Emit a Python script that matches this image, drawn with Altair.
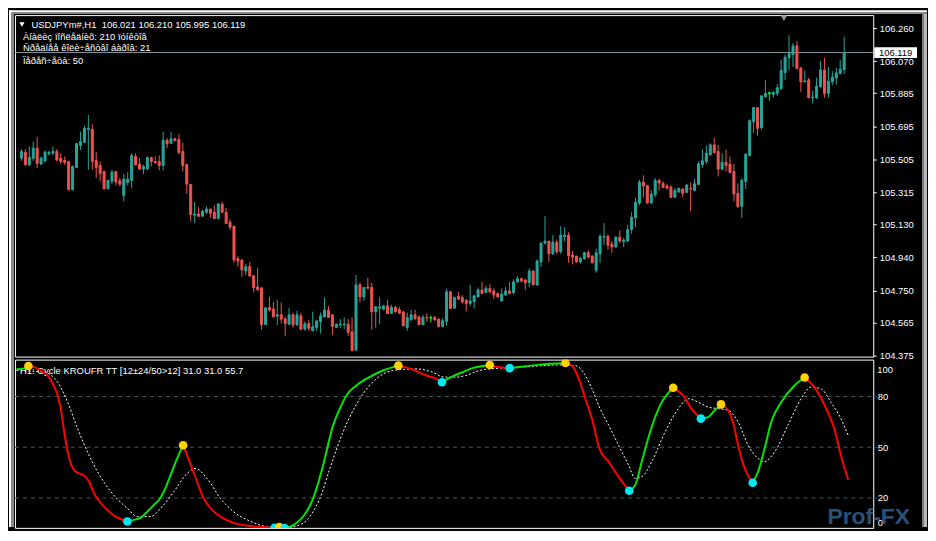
import altair as alt
import pandas as pd
import numpy as np

# ---------------- price candles (USDJPY H1) ----------------
opens = [105.511, 105.544, 105.473, 105.511, 105.569, 105.477, 105.496, 105.536, 105.540, 105.550,
         105.511, 105.498, 105.492, 105.330, 105.458, 105.584, 105.603, 105.677, 105.676, 105.498,
         105.469, 105.435, 105.336, 105.378, 105.435, 105.381, 105.297, 105.372, 105.383, 105.521,
         105.477, 105.448, 105.450, 105.515, 105.492, 105.492, 105.469, 105.614, 105.597, 105.624,
         105.618, 105.550, 105.475, 105.360, 105.183, 105.190, 105.177, 105.200, 105.219, 105.200,
         105.164, 105.246, 105.200, 105.143, 105.120, 104.933, 104.925, 104.862, 104.887, 104.835,
         104.770, 104.765, 104.554, 104.652, 104.644, 104.602, 104.610, 104.587, 104.556, 104.610,
         104.552, 104.604, 104.528, 104.560, 104.518, 104.537, 104.570, 104.598, 104.637, 104.610,
         104.537, 104.552, 104.552, 104.556, 104.512, 104.407, 104.782, 104.713, 104.770, 104.767,
         104.627, 104.648, 104.642, 104.661, 104.619, 104.652, 104.639, 104.627, 104.537, 104.581,
         104.610, 104.598, 104.553, 104.595, 104.591, 104.595, 104.585, 104.543, 104.572, 104.742,
         104.648, 104.715, 104.709, 104.694, 104.675, 104.686, 104.713, 104.753, 104.738, 104.761,
         104.747, 104.732, 104.690, 104.724, 104.747, 104.738, 104.799, 104.818, 104.810, 104.795,
         104.862, 104.782, 104.915, 105.022, 105.034, 104.961, 105.028, 104.973, 105.059, 105.068,
         104.954, 104.948, 104.914, 104.933, 104.967, 104.948, 104.866, 104.961, 105.057, 105.062,
         105.017, 105.000, 105.057, 105.030, 105.034, 105.101, 105.168, 105.253, 105.372, 105.355,
         105.253, 105.301, 105.383, 105.366, 105.351, 105.345, 105.286, 105.318, 105.334, 105.315,
         105.337, 105.326, 105.360, 105.473, 105.492, 105.530, 105.588, 105.550, 105.448, 105.487,
         105.477, 105.435, 105.309, 105.234, 105.378, 105.527, 105.721, 105.802, 105.687, 105.865,
         105.882, 105.878, 105.884, 105.912, 106.004, 106.090, 106.107, 106.157, 106.031, 105.951,
         105.962, 105.859, 105.859, 105.922, 106.019, 105.884, 105.951, 105.973, 105.998, 106.021]
highs = [105.563, 105.563, 105.578, 105.607, 105.635, 105.521, 105.555, 105.555, 105.578, 105.563,
         105.540, 105.521, 105.496, 105.469, 105.597, 105.664, 105.698, 105.760, 105.706, 105.546,
         105.492, 105.439, 105.387, 105.444, 105.435, 105.397, 105.420, 105.431, 105.540, 105.540,
         105.511, 105.473, 105.521, 105.515, 105.521, 105.527, 105.664, 105.626, 105.664, 105.626,
         105.649, 105.601, 105.479, 105.362, 105.259, 105.229, 105.215, 105.234, 105.219, 105.240,
         105.253, 105.259, 105.225, 105.158, 105.120, 104.948, 104.929, 104.902, 104.914, 104.839,
         104.881, 104.765, 104.652, 104.713, 104.684, 104.696, 104.681, 104.598, 104.650, 104.621,
         104.633, 104.621, 104.572, 104.581, 104.627, 104.581, 104.623, 104.709, 104.661, 104.610,
         104.558, 104.585, 104.595, 104.585, 104.595, 104.839, 104.795, 104.770, 104.822, 104.795,
         104.661, 104.709, 104.667, 104.696, 104.667, 104.661, 104.656, 104.629, 104.623, 104.639,
         104.639, 104.604, 104.610, 104.619, 104.604, 104.604, 104.589, 104.589, 104.761, 104.747,
         104.715, 104.742, 104.723, 104.700, 104.782, 104.725, 104.767, 104.799, 104.776, 104.786,
         104.763, 104.738, 104.761, 104.770, 104.799, 104.814, 104.833, 104.824, 104.818, 104.877,
         104.866, 104.929, 105.028, 105.177, 105.034, 105.068, 105.043, 105.120, 105.114, 105.085,
         104.977, 104.948, 104.942, 104.973, 104.982, 104.952, 104.990, 105.072, 105.137, 105.072,
         105.034, 105.062, 105.095, 105.053, 105.129, 105.200, 105.282, 105.387, 105.412, 105.355,
         105.326, 105.397, 105.393, 105.378, 105.364, 105.355, 105.339, 105.343, 105.339, 105.364,
         105.372, 105.393, 105.492, 105.561, 105.584, 105.597, 105.630, 105.588, 105.540, 105.561,
         105.521, 105.479, 105.366, 105.397, 105.540, 105.735, 105.807, 105.802, 105.870, 105.960,
         105.893, 105.897, 105.937, 106.079, 106.109, 106.218, 106.174, 106.186, 106.031, 106.017,
         105.974, 105.899, 105.974, 106.071, 106.088, 106.037, 106.012, 106.031, 106.077, 106.210]
lows = [105.496, 105.469, 105.464, 105.496, 105.454, 105.473, 105.488, 105.527, 105.530, 105.496,
        105.477, 105.473, 105.326, 105.326, 105.456, 105.559, 105.597, 105.444, 105.444, 105.397,
        105.378, 105.330, 105.330, 105.362, 105.355, 105.349, 105.263, 105.355, 105.339, 105.469,
        105.444, 105.420, 105.444, 105.464, 105.479, 105.441, 105.441, 105.569, 105.592, 105.607,
        105.534, 105.435, 105.305, 105.148, 105.139, 105.173, 105.177, 105.190, 105.168, 105.160,
        105.160, 105.196, 105.133, 105.099, 104.910, 104.887, 104.829, 104.839, 104.829, 104.738,
        104.747, 104.524, 104.552, 104.629, 104.595, 104.551, 104.560, 104.486, 104.552, 104.537,
        104.547, 104.522, 104.518, 104.518, 104.518, 104.518, 104.503, 104.595, 104.591, 104.495,
        104.535, 104.533, 104.528, 104.490, 104.400, 104.404, 104.681, 104.690, 104.757, 104.524,
        104.537, 104.556, 104.637, 104.617, 104.617, 104.623, 104.614, 104.543, 104.518, 104.576,
        104.579, 104.551, 104.551, 104.570, 104.566, 104.576, 104.537, 104.537, 104.547, 104.642,
        104.646, 104.694, 104.675, 104.629, 104.661, 104.646, 104.709, 104.728, 104.734, 104.734,
        104.700, 104.709, 104.686, 104.719, 104.728, 104.728, 104.795, 104.795, 104.753, 104.767,
        104.780, 104.776, 104.885, 105.015, 104.915, 104.954, 104.958, 104.961, 105.034, 104.910,
        104.900, 104.910, 104.904, 104.927, 104.935, 104.904, 104.852, 104.910, 105.011, 104.984,
        104.967, 104.996, 105.024, 105.000, 105.030, 105.076, 105.116, 105.240, 105.286, 105.250,
        105.248, 105.286, 105.324, 105.339, 105.330, 105.282, 105.282, 105.311, 105.286, 105.309,
        105.206, 105.320, 105.359, 105.454, 105.477, 105.527, 105.540, 105.406, 105.444, 105.435,
        105.425, 105.263, 105.225, 105.168, 105.334, 105.521, 105.658, 105.641, 105.674, 105.859,
        105.842, 105.859, 105.870, 105.903, 105.960, 106.017, 106.037, 106.023, 105.893, 105.947,
        105.855, 105.825, 105.851, 105.918, 105.859, 105.859, 105.932, 105.935, 105.994, 105.995]
closes = [105.550, 105.473, 105.515, 105.569, 105.481, 105.511, 105.546, 105.544, 105.550, 105.500,
          105.492, 105.486, 105.330, 105.464, 105.595, 105.607, 105.683, 105.683, 105.492, 105.458,
          105.423, 105.336, 105.383, 105.431, 105.374, 105.362, 105.391, 105.391, 105.527, 105.473,
          105.448, 105.462, 105.515, 105.492, 105.485, 105.469, 105.614, 105.593, 105.622, 105.612,
          105.544, 105.469, 105.362, 105.187, 105.190, 105.177, 105.206, 105.219, 105.194, 105.164,
          105.248, 105.200, 105.135, 105.114, 104.925, 104.919, 104.868, 104.887, 104.833, 104.766,
          104.755, 104.554, 104.650, 104.637, 104.598, 104.610, 104.585, 104.560, 104.610, 104.552,
          104.610, 104.526, 104.558, 104.533, 104.541, 104.575, 104.604, 104.637, 104.595, 104.543,
          104.556, 104.556, 104.556, 104.509, 104.404, 104.782, 104.713, 104.767, 104.763, 104.627,
          104.656, 104.656, 104.661, 104.617, 104.652, 104.627, 104.619, 104.547, 104.595, 104.610,
          104.589, 104.553, 104.595, 104.591, 104.595, 104.581, 104.543, 104.576, 104.742, 104.646,
          104.709, 104.700, 104.684, 104.675, 104.690, 104.719, 104.753, 104.732, 104.763, 104.742,
          104.724, 104.713, 104.728, 104.747, 104.734, 104.799, 104.818, 104.805, 104.795, 104.862,
          104.782, 104.919, 105.022, 105.034, 104.961, 105.028, 104.973, 105.068, 105.068, 104.948,
          104.942, 104.914, 104.935, 104.967, 104.942, 104.910, 104.967, 105.063, 105.062, 105.011,
          105.000, 105.057, 105.034, 105.040, 105.101, 105.171, 105.257, 105.372, 105.351, 105.253,
          105.305, 105.383, 105.368, 105.343, 105.339, 105.286, 105.326, 105.337, 105.309, 105.357,
          105.334, 105.364, 105.479, 105.496, 105.540, 105.588, 105.544, 105.448, 105.487, 105.469,
          105.429, 105.305, 105.234, 105.383, 105.534, 105.727, 105.802, 105.683, 105.870, 105.884,
          105.888, 105.889, 105.916, 106.017, 106.092, 106.113, 106.157, 106.027, 105.951, 105.956,
          105.859, 105.863, 105.926, 106.019, 105.884, 105.954, 105.977, 106.002, 106.023, 106.119]
marked_bars = [104, 190]          # bars drawn as lime crosses
last_price = 106.119
shift_marker_bar = 193.7
price_ticks = [106.260, 106.070, 105.885, 105.695, 105.505, 105.315,
               105.130, 104.940, 104.750, 104.565, 104.375]

# ---------------- oscillator (Cycle KROUFR TT) ----------------
cyc_bar = [0, 2, 3, 4.5, 6.2, 7.8, 9.1, 10.35, 11.2, 11.75, 12.4, 13.25, 14.5, 15.75, 17.4, 18.25,
           19.5, 21.2, 22.85, 24.5, 26.2, 27.85,
           29.5, 31.2, 32.85, 34.5, 35.75, 37, 38.7, 40.35, 41.85,
           42.85, 44.1, 45.35, 47, 48.7, 51.2, 54.5, 58.7, 62.85, 64.8,
           66, 67.3,
           68.7, 71.2, 72.85, 74.5, 75.35, 77, 79.5, 81.2, 82.85, 85.35, 87.85, 92, 95.9,
           99.5, 102.85, 105.35, 106.85,
           109.5, 112, 114.5, 118.85,
           121.2, 123.85,
           127.85, 131.2, 137.85,
           139.5, 141.2, 142.85, 144.5, 146.4, 148.7, 151.2, 153.85,
           155.35, 157, 159.1, 161.6, 164.9,
           167.4, 169.5, 171.85,
           173.7, 175.35, 176.9,
           178.7, 179.9, 181.2, 182.85, 184.85,
           186.2, 187.85, 189.5, 192, 195.35, 197.9,
           200.35, 203.7, 205.35, 207, 208.85]
cyc_val = [96.0, 96.6, 98.0, 97.3, 95.3, 92.4, 87.5, 80.6, 71.8, 62.9, 53.1, 43.4, 36.5, 34.5, 32.5, 29.6,
           22.8, 16.9, 12.9, 9.6, 7.6, 6.1,
           7.1, 8.4, 11.9, 15.9, 18.8, 23.7, 33.5, 43.4, 51.2,
           45.3, 37.5, 29.6, 19.8, 14.0, 9.0, 5.3, 3.4, 2.7, 2.4,
           2.8, 2.3,
           3.0, 7.1, 11.9, 19.8, 25.7, 39.4, 62.9, 72.8, 80.6, 86.5, 90.4, 95.3, 98.2,
           95.9, 92.4, 90.4, 88.4,
           91.9, 94.3, 96.7, 98.6,
           97.3, 96.7,
           97.8, 98.8, 99.8,
           98.2, 90.4, 78.6, 66.9, 49.0, 41.4, 32.5, 24.3,
           27.6, 41.4, 59.0, 74.7, 85.1,
           80.6, 72.8, 66.9,
           67.8, 71.8, 75.3,
           71.8, 64.9, 51.2, 37.5, 29.0,
           35.5, 49.2, 64.9, 76.6, 86.5, 91.2,
           85.5, 70.8, 61.0, 45.3, 30.6]
sig_bar = [0, 6.9, 10.35, 12.85, 15.35, 17.85, 20.35, 23.7, 27.85, 30.35, 33.7, 36.2, 39.5, 42.85,
           44.9, 47.85, 51.2, 54.5, 58.7, 62.85, 66.9, 71.5, 74.5, 76.2, 78.7, 82, 86.2, 90.35, 94.5,
           100.35, 104.5, 107.4, 110.35, 112.85, 116.2, 121.2, 125.35, 129.5, 136.2, 140.35, 142.85,
           144.5, 146.5, 148.7, 151.2, 153.7, 155.35, 157, 159.5, 162.85, 166.2, 168.7, 171.2, 173.7,
           176.2, 178.7, 181.2, 183.7, 186.2, 187.85, 190.35, 193.7, 197, 199.5, 202, 204.5, 207, 208.85]
sig_val = [95.3, 94.3, 88.4, 76.6, 61.0, 47.2, 35.5, 23.7, 13.9, 9.0, 9.0, 13.9, 23.7, 34.5,
           37.5, 31.6, 19.8, 11.9, 6.3, 3.0, 2.2, 4.5, 12.0, 19.8, 37.5, 59.0, 78.6, 90.4, 95.3,
           96.3, 94.3, 91.4, 91.4, 92.4, 95.3, 96.7, 97.3, 97.8, 98.6, 98.2, 92.4,
           84.5, 73.0, 63.0, 51.0, 39.4, 31.6, 32.5, 41.4, 59.0, 72.8, 78.6, 76.6, 73.7,
           72.8, 71.8, 64.9, 51.2, 43.4, 41.4, 47.2, 63.0, 78.6, 85.5, 84.5, 76.6, 66.9, 57.0]
levels = [20, 50, 80]
osc_top_label = 100

header_line = "USDJPYm#,H1\u00a0\u00a0106.021 106.210 105.995 106.119"
info_lines = ["Àíàëèç ïîñëåäíèõ: 210 ïóíêòîâ",
              "Ñðåäíåå êîëè÷åñòâî áàðîâ: 21",
              "Ïåðåñ÷åòà: 50"]
osc_label = "H1: Cycle KROUFR TT [12±24/50>12] 31.0 31.0 55.7"

# ---------------- layout ----------------
W, H1, H2 = 862, 343, 169
RIGHT = W + 49          # right edge of the black terminal window (plot coordinates)
X_DOM = [-0.375, 215.125]
Y_TOP = [104.3693, 106.3345]
Y_BOT = [2.35, 101.76]
FONT = "Liberation Sans, Arial, sans-serif"
FS = 9.5

xs = alt.Scale(domain=X_DOM, nice=False, zero=False)
ys = alt.Scale(domain=Y_TOP, nice=False, zero=False)
yb = alt.Scale(domain=Y_BOT, nice=False, zero=False)

top_axis = alt.Axis(orient="right", values=price_ticks, format=".3f", tickSize=3, labelPadding=3,
                    grid=False, domain=False, labelColor="white", tickColor="white",
                    labelFont=FONT, labelFontSize=FS, title=None, labelOverlap=False)
bot_axis = alt.Axis(orient="right", values=[Y_BOT[0], 20, 50, 80],
                    labelExpr="datum.value < 10 ? '0' : format(datum.value, 'd')",
                    ticks=False, labelPadding=4, labelFlush=True, grid=False, domain=False,
                    labelColor="white", labelFont=FONT, labelFontSize=FS, title=None,
                    labelOverlap=False)

n = len(closes)
assert len(opens) == len(highs) == len(lows) == n
cdf = pd.DataFrame({"bar": np.arange(n), "o": opens, "h": highs, "l": lows, "c": closes})
cdf["kind"] = np.where(cdf["c"] >= cdf["o"], "bull", "bear")
cdf.loc[cdf["bar"].isin(marked_bars), "kind"] = "mark"
cscale = alt.Scale(domain=["bull", "bear", "mark"], range=["#26a69a", "#ef5350", "#00ff00"])

one = pd.DataFrame({"k": [0]})


def txt(s, x, y, color="white", size=FS, align="left", **kw):
    return alt.Chart(one).mark_text(text=s, align=align, baseline="middle", color=color,
                                    font=FONT, fontSize=size, **kw).encode(
        x=alt.value(x), y=alt.value(y))


def box(x, x2, y, y2, color):
    return alt.Chart(one).mark_rect(color=color, opacity=1).encode(
        x=alt.value(x), x2=alt.value(x2), y=alt.value(y), y2=alt.value(y2))


X = alt.X("bar:Q", scale=xs, axis=None)

# window frame: white page edge + grey bevel around the black terminal window
frame = alt.layer(
    box(-6, -3.5, -5, 514, "#ffffff"),
    box(-3.5, -1, -1, 514, "#8a8a8a"),
    box(-6, RIGHT + 5, -5, -2.5, "#ffffff"),
    box(-3.5, RIGHT + 5, -2.5, -1, "#8a8a8a"),
    box(RIGHT, RIGHT + 2, -1, 514, "#7c7c7c"),
    box(RIGHT + 2, RIGHT + 5, -1, 514, "#b9b9b9"),
)

price_line = alt.Chart(one).mark_rule(color="#8c96a0", strokeWidth=1).encode(
    y=alt.YDatum(last_price, scale=ys, axis=top_axis, title=None))

wicks = alt.Chart(cdf).mark_rule(strokeWidth=1).encode(
    x=X, y=alt.Y("l:Q", scale=ys, axis=top_axis, title=None), y2="h:Q",
    color=alt.Color("kind:N", scale=cscale, legend=None))

bodies = alt.Chart(cdf).mark_bar(size=2, strokeWidth=1, opacity=1).encode(
    x=X, y=alt.Y("o:Q", scale=ys, axis=top_axis, title=None), y2="c:Q",
    color=alt.Color("kind:N", scale=cscale, legend=None),
    stroke=alt.Stroke("kind:N", scale=cscale, legend=None))

price_box = alt.Chart(one).mark_point(shape="M-1,-0.25H1V0.25H-1Z", filled=True, size=1849,
                                      color="white", opacity=1, strokeWidth=0).encode(
    x=alt.value(W + 22.5), y=alt.YDatum(last_price, scale=ys, axis=top_axis, title=None))
price_txt = alt.Chart(one).mark_text(text=f"{last_price:.3f}", color="black", font=FONT,
                                     fontSize=FS, align="center", baseline="middle").encode(
    x=alt.value(W + 22.5), y=alt.YDatum(last_price, scale=ys, axis=top_axis, title=None))

shift_mark = alt.Chart(one).mark_point(shape="triangle-down", filled=True, color="#8f98a0",
                                       size=45, opacity=1).encode(
    x=alt.XDatum(shift_marker_bar, scale=xs, axis=None), y=alt.value(3))

hdr_tri = alt.Chart(one).mark_point(shape="triangle-down", filled=True, color="white",
                                    size=28, opacity=1).encode(x=alt.value(7), y=alt.value(9.5))

top = alt.layer(
    frame, price_line, wicks, bodies, price_box, price_txt, shift_mark, hdr_tri,
    txt(header_line, 16.5, 9.5),
    txt(info_lines[0], 8, 21.7),
    txt(info_lines[1], 8, 33),
    txt(info_lines[2], 8, 46.3),
).properties(width=W, height=H1)

# ----- oscillator data -----
assert len(cyc_bar) == len(cyc_val) and len(sig_bar) == len(sig_val)
segs = []
cur, cur_dir = [0], None
for k in range(1, len(cyc_val)):
    d = "up" if cyc_val[k] >= cyc_val[k - 1] else "down"
    if cur_dir is None or d == cur_dir:
        cur.append(k)
        cur_dir = d
    else:
        segs.append((cur_dir, cur))
        cur, cur_dir = [k - 1, k], d
segs.append((cur_dir, cur))
rows = []
for s, (d, ks) in enumerate(segs):
    for k in ks:
        rows.append({"bar": cyc_bar[k], "v": cyc_val[k], "seg": s,
                     "col": "#00e600" if d == "up" else "#ff0000"})
mdf = pd.DataFrame(rows)

dots = []
for k in range(1, len(cyc_val) - 1):
    if cyc_val[k] > cyc_val[k - 1] and cyc_val[k] > cyc_val[k + 1]:
        dots.append({"bar": cyc_bar[k], "v": cyc_val[k], "col": "#ffd200"})
    elif cyc_val[k] < cyc_val[k - 1] and cyc_val[k] < cyc_val[k + 1]:
        dots.append({"bar": cyc_bar[k], "v": cyc_val[k], "col": "#00e8f4"})
ddf = pd.DataFrame(dots)
sdf = pd.DataFrame({"bar": sig_bar, "v": sig_val})

YB = alt.Y("v:Q", scale=yb, axis=bot_axis, title=None)

level_rules = alt.Chart(pd.DataFrame({"lv": levels})).mark_rule(
    strokeDash=[4, 4], color="#3a5f5a", strokeWidth=1).encode(
    y=alt.Y("lv:Q", scale=yb, axis=bot_axis, title=None), x=alt.value(0), x2=alt.value(W + 4))

# top scale label of the oscillator, pushed inside the panel as the terminal does
top_lbl = alt.Chart(one).mark_text(text=str(osc_top_label), align="left", baseline="top", dy=2,
                                   color="white", font=FONT, fontSize=FS).encode(
    x=alt.value(W + 4), y=alt.YDatum(osc_top_label, scale=yb, axis=bot_axis, title=None))

sig_line = alt.Chart(sdf).mark_line(color="white", strokeWidth=1, strokeDash=[2, 2],
                                    interpolate="monotone", clip=True).encode(
    x=X, y=YB, order="bar:Q")

main_line = alt.Chart(mdf).mark_line(strokeWidth=2, interpolate="monotone", clip=True).encode(
    x=X, y=YB, detail="seg:N", order="bar:Q", color=alt.Color("col:N", scale=None))

dot_layer = alt.Chart(ddf).mark_circle(size=75, opacity=1, clip=True).encode(
    x=X, y=YB, color=alt.Color("col:N", scale=None))

watermark = alt.Chart(one).mark_text(text="Prof-FX", align="left", baseline="bottom",
                                     color="#2f6090", opacity=0.85, font=FONT, fontSize=23,
                                     fontWeight="bold").encode(
    x=alt.value(816), y=alt.value(170))

bottom = alt.layer(
    level_rules, top_lbl,
    txt(osc_label, 5, 11),
    sig_line, main_line, dot_layer, watermark,
).properties(width=W, height=H2)

chart = alt.vconcat(top, bottom, spacing=3, bounds="flush").properties(
    padding={"left": 0, "top": 0, "right": 0, "bottom": 0},
    background="#000000",
).configure_view(fill="#000000", stroke="#ffffff", strokeWidth=1)

chart.save("out.html", embed_options={"renderer": "svg", "actions": False})
